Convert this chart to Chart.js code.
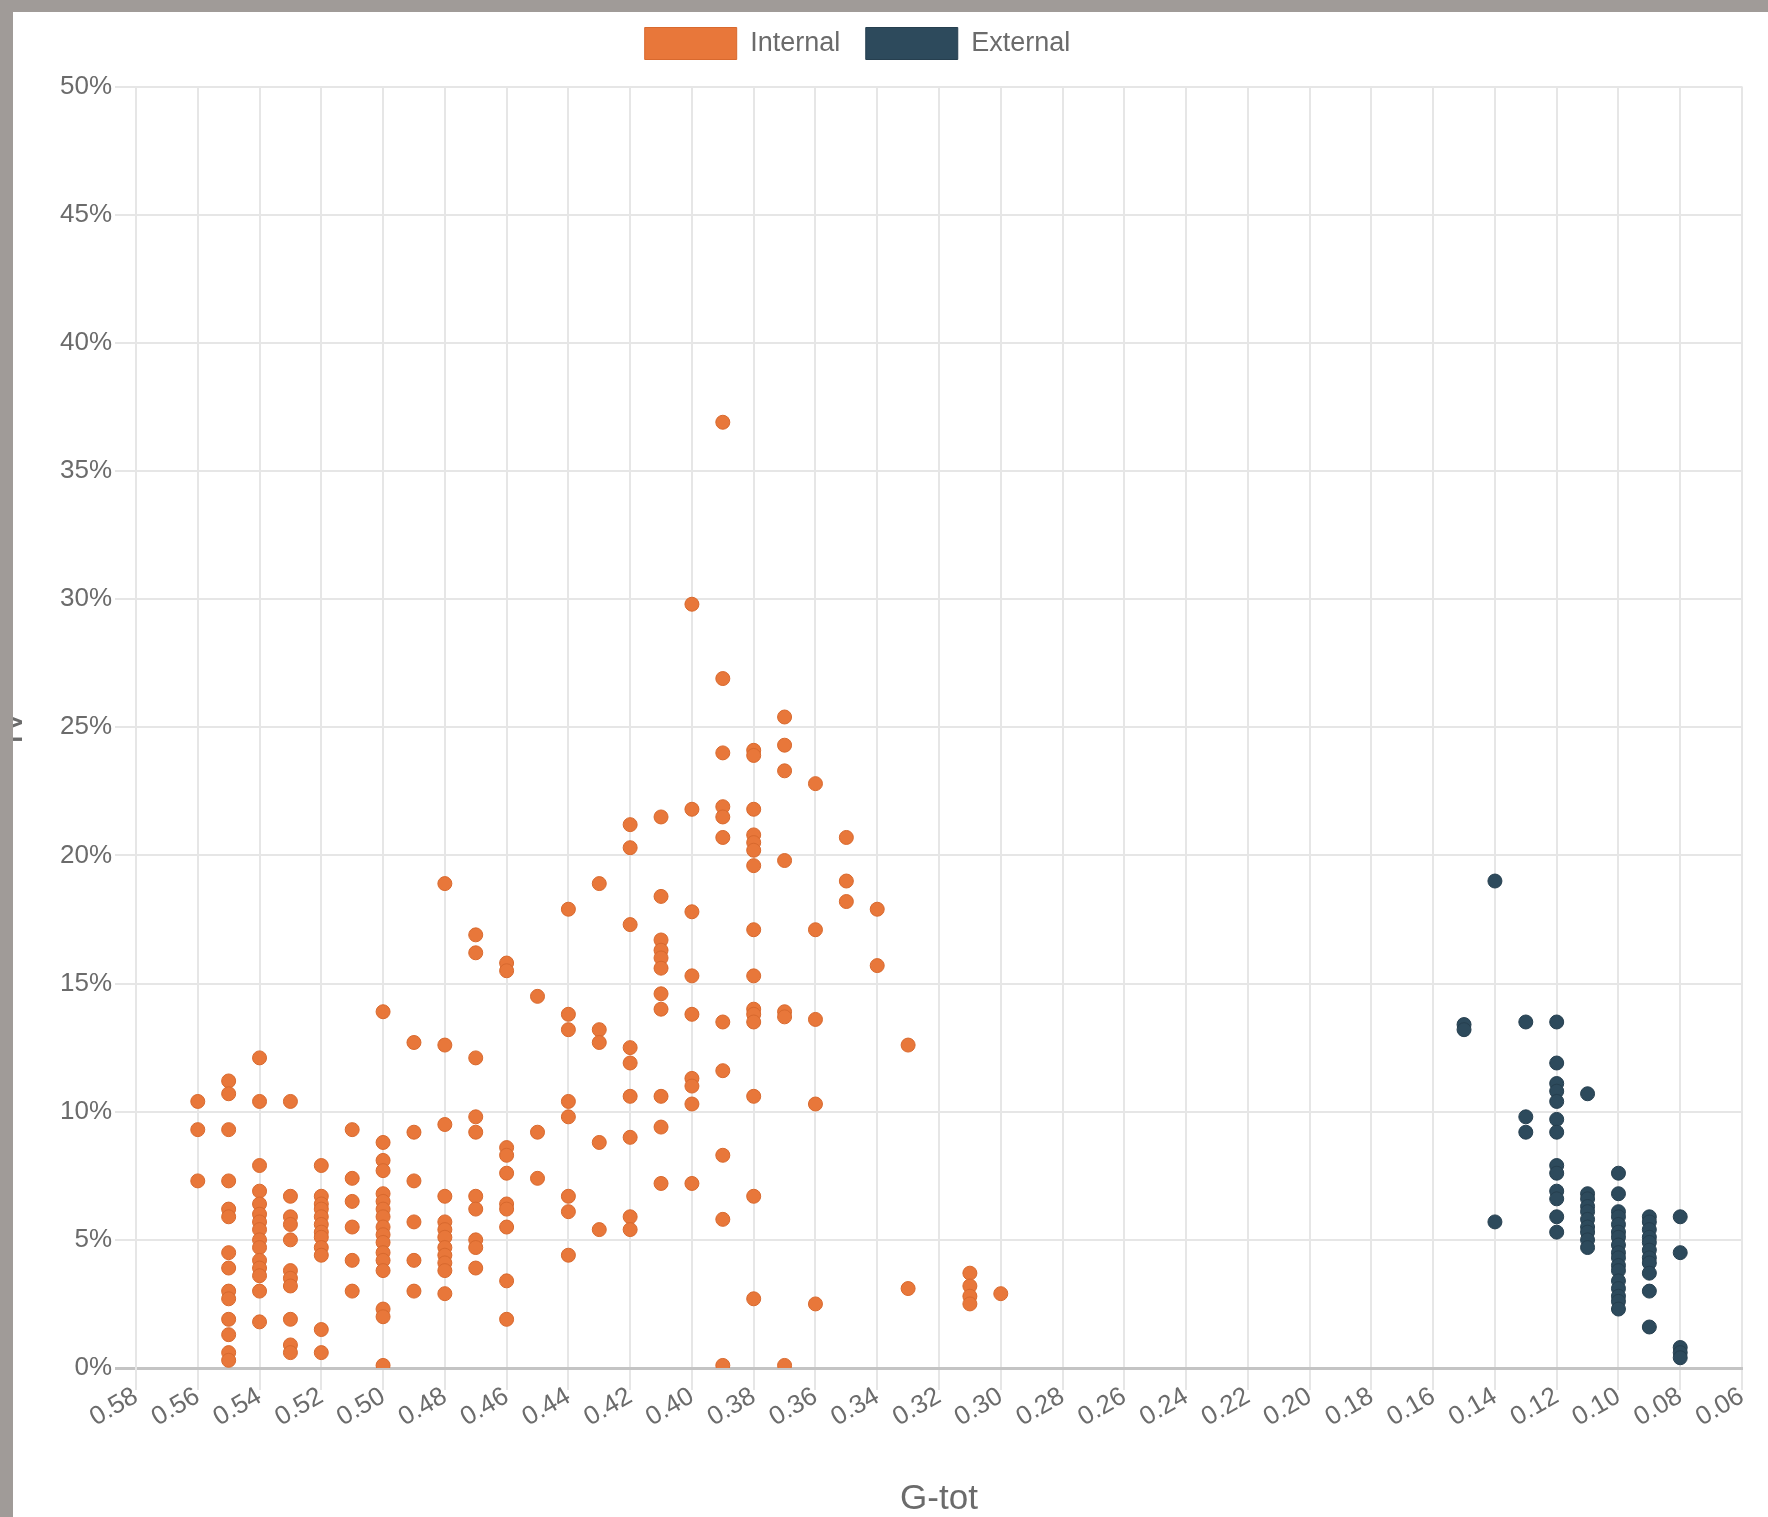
<!DOCTYPE html>
<html>
<head>
<meta charset="utf-8">
<script src="https://cdn.jsdelivr.net/npm/chart.js@4/dist/chart.umd.min.js"></script>
<style>
html, body { margin:0; padding:0; background:#ffffff; width:1768px; height:1517px; overflow:hidden; position:relative; }
#wrap { position:absolute; left:-30px; top:0; width:1790px; height:1517px; }
.frame-top { position:absolute; left:0; top:0; width:1768px; height:12px; background:#a09b98; z-index:2; }
.frame-left { position:absolute; left:0; top:0; width:13px; height:1517px; background:#a09b98; z-index:2; }
</style>
</head>
<body>
<div id="wrap"><canvas id="c" width="1790" height="1517"></canvas></div>
<div class="frame-top"></div>
<div class="frame-left"></div>
<script>
// ---- data (G-tot columns, percent values) ----
const seriesLabels = ['Internal', 'External'];
const xTitle = 'G-tot';
const yTitle = 'IV';

const internalG = [0.56, 0.55, 0.54, 0.53, 0.52, 0.51, 0.50, 0.49, 0.48, 0.47, 0.46, 0.45, 0.44,
                   0.43, 0.42, 0.41, 0.40, 0.39, 0.38, 0.37, 0.36, 0.35, 0.34, 0.33, 0.31, 0.30];
const internalPct = [
  [10.4, 9.3, 7.3],
  [11.2, 10.7, 9.3, 7.3, 6.2, 5.9, 4.5, 3.9, 3.0, 2.7, 1.9, 1.3, 0.6, 0.3],
  [12.1, 10.4, 7.9, 6.9, 6.4, 6.0, 5.7, 5.4, 5.0, 4.7, 4.2, 3.9, 3.6, 3.0, 1.8],
  [10.4, 6.7, 5.9, 5.6, 5.0, 3.8, 3.5, 3.2, 1.9, 0.9, 0.6],
  [7.9, 6.7, 6.4, 6.2, 5.9, 5.6, 5.3, 5.1, 4.7, 4.4, 1.5, 0.6],
  [9.3, 7.4, 6.5, 5.5, 4.2, 3.0],
  [13.9, 8.8, 8.1, 7.7, 6.8, 6.5, 6.2, 5.9, 5.5, 5.2, 4.9, 4.5, 4.2, 3.8, 2.3, 2.0, 0.1],
  [12.7, 9.2, 7.3, 5.7, 4.2, 3.0],
  [18.9, 12.6, 9.5, 6.7, 5.7, 5.4, 5.1, 4.7, 4.4, 4.1, 3.8, 2.9],
  [16.9, 16.2, 12.1, 9.8, 9.2, 6.7, 6.2, 5.0, 4.7, 3.9],
  [15.8, 15.5, 8.6, 8.3, 7.6, 6.4, 6.2, 5.5, 3.4, 1.9],
  [14.5, 9.2, 7.4],
  [17.9, 13.8, 13.2, 10.4, 9.8, 6.7, 6.1, 4.4],
  [18.9, 13.2, 12.7, 8.8, 5.4],
  [21.2, 20.3, 17.3, 12.5, 11.9, 10.6, 9.0, 5.9, 5.4],
  [21.5, 18.4, 16.7, 16.3, 16.0, 15.6, 14.6, 14.0, 10.6, 9.4, 7.2],
  [29.8, 21.8, 17.8, 15.3, 13.8, 11.3, 11.0, 10.3, 7.2],
  [36.9, 26.9, 24.0, 21.9, 21.5, 20.7, 13.5, 11.6, 8.3, 5.8, 0.1],
  [24.1, 23.9, 21.8, 20.8, 20.5, 20.2, 19.6, 17.1, 15.3, 14.0, 13.8, 13.5, 10.6, 6.7, 2.7],
  [25.4, 24.3, 23.3, 19.8, 13.9, 13.7, 0.1],
  [22.8, 17.1, 13.6, 10.3, 2.5],
  [20.7, 19.0, 18.2],
  [17.9, 15.7],
  [12.6, 3.1],
  [3.7, 3.2, 2.8, 2.5],
  [2.9]
];

const externalG = [0.15, 0.14, 0.13, 0.12, 0.11, 0.10, 0.09, 0.08];
const externalPct = [
  [13.4, 13.2],
  [19.0, 5.7],
  [13.5, 9.8, 9.2],
  [13.5, 11.9, 11.1, 10.8, 10.4, 9.7, 9.2, 7.9, 7.6, 6.9, 6.6, 5.9, 5.3],
  [10.7, 6.8, 6.6, 6.3, 6.1, 5.8, 5.5, 5.3, 5.0, 4.7],
  [7.6, 6.8, 6.1, 5.9, 5.6, 5.3, 5.1, 4.8, 4.5, 4.3, 4.0, 3.8, 3.4, 3.1, 2.8, 2.6, 2.3],
  [5.9, 5.7, 5.4, 5.1, 4.9, 4.6, 4.3, 4.1, 3.7, 3.0, 1.6],
  [5.9, 4.5, 0.8, 0.6, 0.4]
];

const xTickMin = 0.06, xTickMax = 0.58, xTickStep = 0.02;
const yTickMin = 0, yTickMax = 50, yTickStep = 5;

// ---- build points ----
function toPoints(gs, vals) {
  const pts = [];
  gs.forEach((g, i) => vals[i].forEach(v => pts.push({ x: g, y: v })));
  return pts;
}

const FONT = "'Liberation Sans', Arial, Helvetica, sans-serif";
const TEXT = '#6b6b6b';
const GRID = '#e6e6e6';
const ZERO = '#c4c4c4';

const legendGap = {
  id: 'legendGap',
  beforeLayout(chart) {
    const lg = chart.legend;
    if (lg && !lg._gapPatched) {
      const fit = lg.fit;
      lg.fit = function () { fit.call(this); this.height += 17; };
      lg._gapPatched = true;
    }
  }
};

new Chart(document.getElementById('c'), {
  type: 'scatter',
  plugins: [legendGap],
  data: {
    datasets: [
      {
        label: seriesLabels[0],
        data: toPoints(internalG, internalPct),
        backgroundColor: '#e8773a',
        borderColor: '#d8692e',
        borderWidth: 1,
        pointRadius: 7,
        pointHoverRadius: 7
      },
      {
        label: seriesLabels[1],
        data: toPoints(externalG, externalPct),
        backgroundColor: '#2d4a5c',
        borderColor: '#263f4f',
        borderWidth: 1,
        pointRadius: 7,
        pointHoverRadius: 7
      }
    ]
  },
  options: {
    responsive: false,
    animation: false,
    devicePixelRatio: 1,
    layout: { padding: { left: 3, right: 18, top: 2, bottom: 0 } },
    plugins: {
      tooltip: { enabled: false },
      legend: {
        labels: {
          boxWidth: 92,
          boxHeight: 32,
          padding: 25.5,
          color: TEXT,
          font: { family: FONT, size: 27 }
        }
      }
    },
    scales: {
      x: {
        type: 'linear',
        position: 'bottom',
        reverse: true,
        min: xTickMin,
        max: xTickMax,
        ticks: {
          stepSize: xTickStep,
          autoSkip: false,
          minRotation: 30,
          maxRotation: 30,
          padding: -9,
          color: TEXT,
          font: { family: FONT, size: 26 },
          callback: v => Number(v).toFixed(2)
        },
        grid: { color: GRID, lineWidth: 2, tickLength: 22 },
        border: { color: ZERO, width: 3 },
        title: {
          display: true,
          text: xTitle,
          color: TEXT,
          font: { family: FONT, size: 35, lineHeight: 1 },
          padding: { top: 0, bottom: 0 }
        },
        afterFit: s => { s.height = 149; s.paddingLeft = 0; s.paddingRight = 0; }
      },
      y: {
        min: yTickMin,
        max: yTickMax,
        ticks: {
          stepSize: yTickStep,
          padding: 3,
          color: TEXT,
          font: { family: FONT, size: 26 },
          callback: v => v + '%'
        },
        grid: {
          color: c => (c.tick && c.tick.value === 0 ? ZERO : GRID),
          lineWidth: c => (c.tick && c.tick.value === 0 ? 3 : 2),
          tickLength: 21
        },
        border: { color: GRID, width: 2 },
        title: {
          display: true,
          text: yTitle,
          color: TEXT,
          font: { family: FONT, size: 36 },
          padding: { top: 17, bottom: 0 }
        },
        afterFit: s => { s.width = 163; }
      }
    }
  }
});
</script>
</body>
</html>
